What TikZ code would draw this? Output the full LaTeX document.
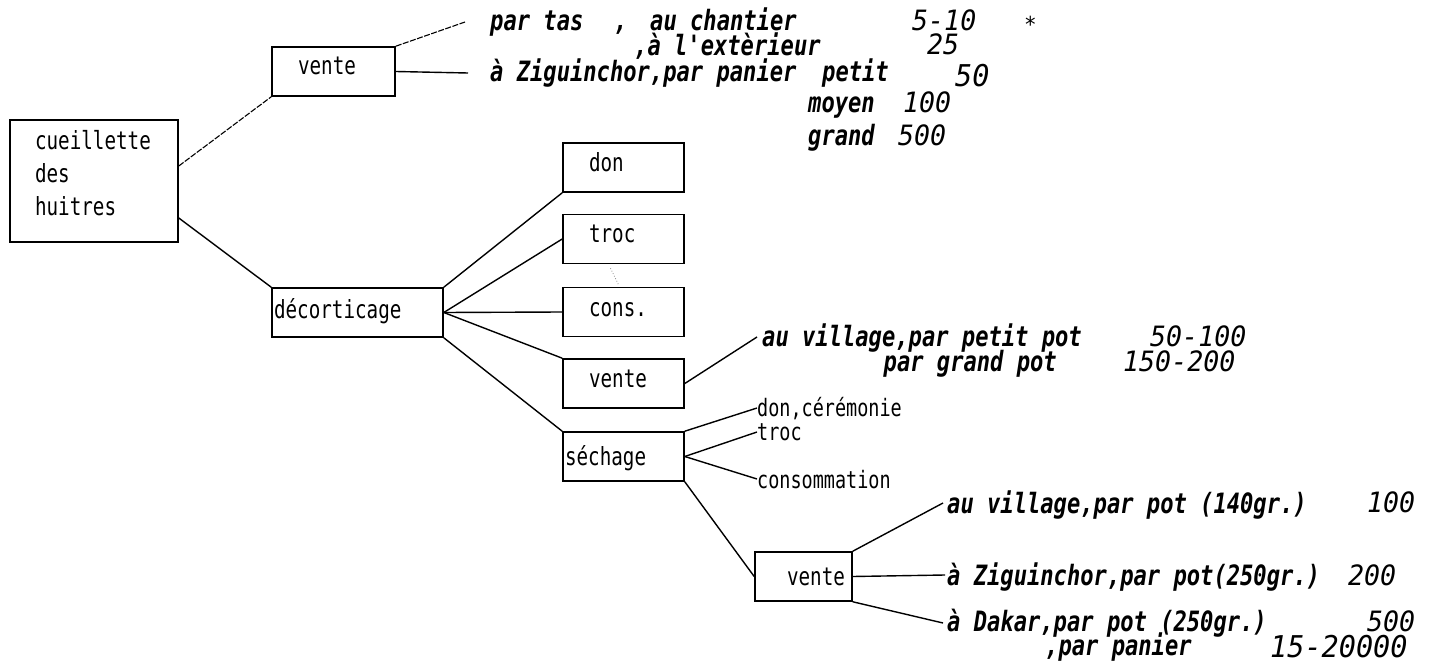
\documentclass[tikz,border=0pt]{standalone}
\usepackage{fontspec}
\newfontfamily\dboxfont[FakeStretch=0.77]{DejaVu Sans Mono}
\newfontfamily\dannfont[FakeStretch=0.79]{DejaVu Sans Mono}
\newfontfamily\dnumfont[FakeStretch=0.95]{DejaVu Sans Mono}
\begin{document}
\begin{tikzpicture}[x=1pt,y=-1pt,
  box/.style={draw,line width=1.6pt,inner sep=0pt,minimum height=49pt,align=left,
    font=\dboxfont\fontsize{25}{33}\selectfont,text height=17pt,text depth=#1},
  box/.default=10pt,
  conn/.style={line width=1.4pt},
  faint/.style={line width=1.1pt,dash pattern=on 6pt off 1.5pt},
  ann/.style={anchor=base west,inner sep=0pt,font=\dannfont\bfseries\itshape\fontsize{28}{30}\selectfont},
  num/.style={anchor=base west,inner sep=0pt,font=\dnumfont\itshape\fontsize{28}{30}\selectfont},
  lab/.style={anchor=base west,inner sep=0pt,font=\dboxfont\fontsize{24}{26}\selectfont}]
\useasboundingbox (0,0) rectangle (1440,663);

% boxes
\node[box, minimum width=168pt, minimum height=122pt, text width=118pt, text height=18pt, text depth=80pt] (cue) at (94,181) {cueillette\\des\\huitres};
\node[box=10pt, minimum width=123pt, text width=71pt] (vtop) at (333.5,71.5) {vente};
\node[box=6pt, minimum width=171pt, text width=167pt] (dec) at (357.5,312.5) {décorticage};
\node[box=8pt, minimum width=121pt, text width=69pt] (don) at (623.5,167.5) {don};
\node[box=11pt, minimum width=121pt, text width=69pt] (troc) at (623.5,239) {troc};
\node[box=9pt, minimum width=121pt, text width=69pt] (cons) at (623.5,312) {cons.};
\node[box=10pt, minimum width=121pt, text width=69pt] (vmid) at (623.5,383.5) {vente};
\node[box=0pt, minimum width=121pt, text width=117pt] (sech) at (623.5,456.5) {séchage};
\node[box=0pt, minimum width=97pt, text width=83pt, align=right] (vbot) at (803.5,576.5) {vente};

% free ends of connectors
\coordinate (cpartas) at (465,22);
\coordinate (czig1) at (468,73);
\coordinate (cvill1) at (757,337);
\coordinate (cdon) at (757,408);
\coordinate (ctroc) at (757,432);
\coordinate (ccons) at (757,479);
\coordinate (cvill2) at (943,503);
\coordinate (czig2) at (945,575);
\coordinate (cdak) at (943,623);

% connectors
\draw[faint] ([yshift=15pt]cue.east) -- (vtop.south west);
\draw[conn] ([yshift=-37pt]cue.east) -- (dec.north west);
\draw[faint] (vtop.north east) -- (cpartas);
\draw[conn] (vtop.east) -- (czig1);
\draw[conn] (dec.north east) -- (don.south west);
\draw[conn] (dec.east) -- (troc.west);
\draw[conn] (dec.east) -- (cons.west);
\draw[conn] (dec.east) -- (vmid.north west);
\draw[conn] (dec.south east) -- (sech.north west);
\draw[gray, line width=0.8pt, dotted] ([xshift=-13pt,yshift=-4pt]troc.south) -- ([xshift=-5pt,yshift=2pt]cons.north);
\draw[conn] (vmid.east) -- (cvill1);
\draw[conn] (sech.north east) -- (cdon);
\draw[conn] (sech.east) -- (ctroc);
\draw[conn] (sech.east) -- (ccons);
\draw[conn] (sech.south east) -- (vbot.west);
\draw[conn] (vbot.north east) -- (cvill2);
\draw[conn] (vbot.east) -- (czig2);
\draw[conn] (vbot.south east) -- (cdak);

% top annotations
\node[ann] (t1) at (490,31) {par tas};
\node[ann] (t1b) at (614,31) {,};
\node[ann] (t1c) at (650,31) {au chantier};
\node[num] (n1) at (912,31) {5-10};
\node[num, font=\dnumfont\fontsize{22}{24}\selectfont] (star) at (1024,33) {*};
\node[ann] (t2) at (634,56) {,à l'extèrieur};
\node[num] (n2) at (927,55) {25};
\node[ann] (t3) at (490,82) {à Ziguinchor,par panier};
\node[ann] (t3b) at (822,82) {petit};
\node[num, font=\dnumfont\itshape\fontsize{30}{30}\selectfont] (n3) at (955,87) {50};
\node[ann] (t4) at (808,113) {moyen};
\node[num] (n4) at (903,113) {100};
\node[ann] (t5) at (808,146) {grand};
\node[num] (n5) at (898,146) {500};

% middle annotations
\node[ann] (t6) at (762,346) {au village,par petit pot};
\node[ann, anchor=base east] (t7) at (1057,371) {par grand pot};
\node[num] (n6) at (1150,346) {50-100};
\node[num] (n7) at (1123,371) {150-200};

% sechage labels
\node[lab] (l1) at (757,416) {don,cérémonie};
\node[lab] (l2) at (757,440) {troc};
\node[lab] (l3) at (757,488) {consommation};

% bottom annotations
\node[ann] (t8) at (947,513) {au village,par pot (140gr.)};
\node[num] (n8) at (1367,512) {100};
\node[ann] (t9) at (947,585) {à Ziguinchor,par pot(250gr.)};
\node[num] (n9) at (1348,585) {200};
\node[ann] (t10) at (947,631) {à Dakar,par pot (250gr.)};
\node[num] (n10) at (1367,631) {500};
\node[ann] (t11) at (1045,655) {,par panier};
\node[num, font=\dnumfont\itshape\fontsize{30}{30}\selectfont] (n11) at (1270,657) {15-20000};
\end{tikzpicture}
\end{document}
